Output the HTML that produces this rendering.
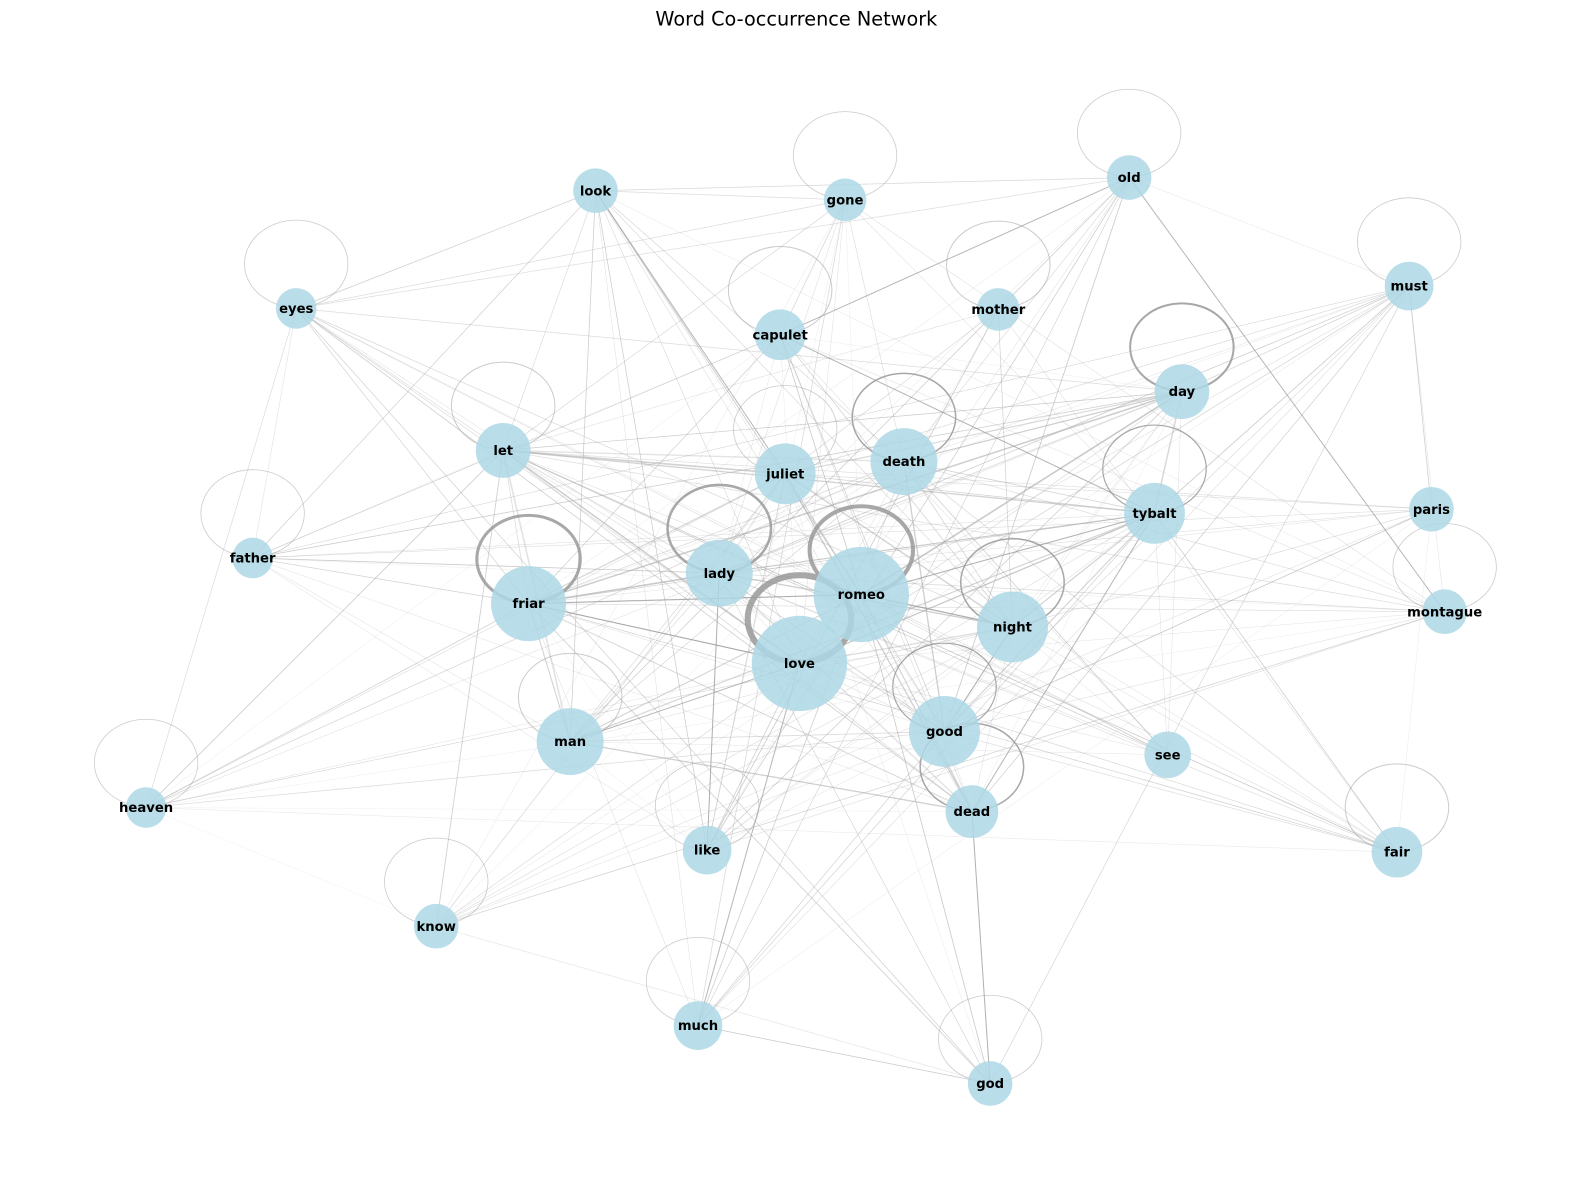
<!DOCTYPE html>
<html><head><meta charset="utf-8"><style>
html,body{margin:0;padding:0;background:#fff;overflow:hidden;width:1589px;height:1190px;}
svg{display:block;}
text{font-family:"DejaVu Sans","Liberation Sans",sans-serif;}
</style></head><body>
<svg id="s" width="1589" height="1190" viewBox="0 0 1589 1190" xmlns="http://www.w3.org/2000/svg">
<g transform="scale(1.0145)">
<text x="785" y="25" font-size="19" text-anchor="middle" fill="#000">Word Co-occurrence Network</text>
<g id="edges"></g><g id="loops"></g><g id="nodes"></g>
</g>
</svg>
<script>
var N={look:[587,188,22],gone:[833,197,21],old:[1113,175,22],eyes:[292,304,20],capulet:[769,330,25],mother:[984,305,21],must:[1389,282,24],day:[1165,386,27],let:[496,444,27],juliet:[774,467,30],death:[891,455,33],tybalt:[1138,506,30],paris:[1411,502,22],father:[249,550,20],friar:[521,595,37],lady:[709,565,33],romeo:[849,586,47],night:[998,618,35],montague:[1424,603,22],love:[788,654,47],man:[562,731,33],good:[931,721,35],see:[1151,744,23],heaven:[144,796,20],dead:[958,800,26],fair:[1377,840,25],like:[697,838,24],know:[430,913,22],much:[688,1011,24],god:[976,1068,22]};
var loopW={day:2,friar:3,lady:2.5,romeo:4,love:6,death:1.5,night:1.5,tybalt:1.2,good:1.2,dead:1.5,capulet:1,mother:1,let:1,man:1,fair:1};
var ns="http://www.w3.org/2000/svg";
function el(t,a,p){var e=document.createElementNS(ns,t);for(var k in a)e.setAttribute(k,a[k]);document.getElementById(p).appendChild(e);return e;}
var keys=Object.keys(N);var seed=7;function r(){seed=(seed*16807)%2147483647;return seed/2147483647;}
var big={romeo:1,love:1,friar:1,lady:1,night:1,good:1,death:1,juliet:1,man:1,let:1,tybalt:1,day:1,dead:1};
for(var i=0;i<keys.length;i++)for(var j=i+1;j<keys.length;j++){
 var a=keys[i],b=keys[j];var p=0.35+(big[a]?0.25:0)+(big[b]?0.25:0);
 if(r()<p){var w=(big[a]&&big[b])?(r()*1.2+0.4):(r()*0.6+0.3);
 el("line",{x1:N[a][0],y1:N[a][1],x2:N[b][0],y2:N[b][1],stroke:"#aaa","stroke-width":w,"stroke-opacity":0.25+r()*0.4},"edges");}}
[["old","montague"],["old","capulet"],["capulet","tybalt"],["love","friar"],["romeo","friar"],["romeo","night"],["love","man"],["good","night"],["dead","tybalt"],["god","dead"],["love","much"],["like","lady"],["romeo","tybalt"],["look","juliet"]].forEach(function(e){var a=N[e[0]],b=N[e[1]];el("line",{x1:a[0],y1:a[1],x2:b[0],y2:b[1],stroke:"#999","stroke-width":1,"stroke-opacity":0.7},"edges");});
keys.forEach(function(k){if(k=="see"||k=="paris"||k=="look")return;var n=N[k];var w=loopW[k]||0.8;
 el("ellipse",{cx:n[0],cy:n[1]-44,rx:51,ry:43,fill:"none",stroke:"#999","stroke-width":w,"stroke-opacity":w>1?0.85:0.5},"loops");});
keys.forEach(function(k){var n=N[k];el("circle",{cx:n[0],cy:n[1],r:n[2],fill:"#add8e6","fill-opacity":0.85},"nodes");
 var t=el("text",{x:n[0],y:n[1]+4.5,"font-size":13,"font-weight":"bold","text-anchor":"middle",fill:"#000"},"nodes");t.textContent=k;});
</script>
</body></html>
